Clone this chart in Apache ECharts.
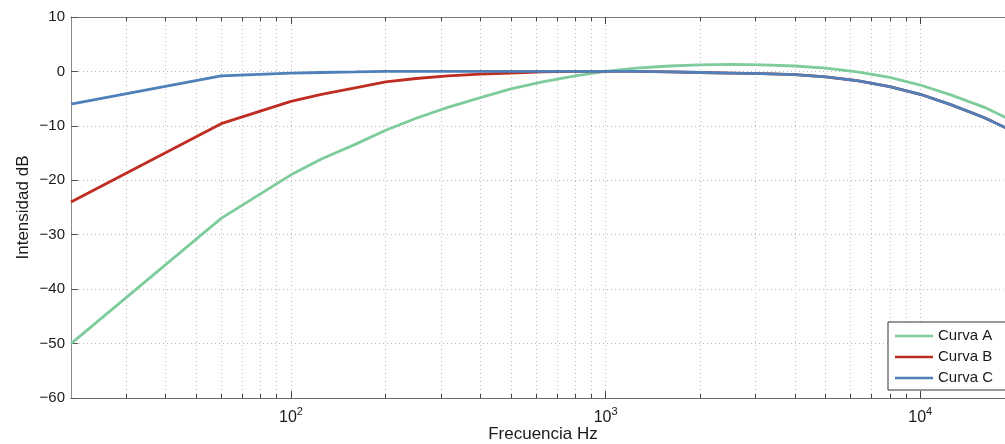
<!DOCTYPE html>
<html>
<head>
<meta charset="utf-8">
<script src="https://cdn.jsdelivr.net/npm/echarts@6/dist/echarts.min.js"></script>
<style>
  html, body { margin: 0; padding: 0; background: #fff; }
  #chart { width: 1005px; height: 444px; }
</style>
</head>
<body>
<div id="chart"></div>
<script>
// Frecuencias (Hz) de muestreo de las curvas
const freqs = [20, 60, 100, 125, 160, 200, 250, 315, 400, 500, 630, 800, 1000,
  1250, 1600, 2000, 2500, 3150, 4000, 5000, 6300, 8000, 10000, 12500, 16000, 20000];

// Curvas de ponderación (dB)
const curvaA = [-50.0, -27.0, -19.0, -16.1, -13.4, -10.8, -8.6, -6.6, -4.8, -3.2, -1.9, -0.8, 0,
  0.6, 1.0, 1.2, 1.3, 1.2, 1.0, 0.6, -0.1, -1.1, -2.5, -4.3, -6.6, -9.3];
const curvaB = [-24.0, -9.6, -5.5, -4.2, -3.0, -1.9, -1.3, -0.8, -0.5, -0.3, -0.1, 0, 0,
  0, -0.1, -0.2, -0.3, -0.4, -0.6, -1.0, -1.7, -2.8, -4.2, -6.1, -8.5, -11.2];
const curvaC = [-6.0, -0.8, -0.3, -0.2, -0.1, 0, 0, 0, 0, 0, 0, 0, 0,
  0, -0.1, -0.2, -0.3, -0.4, -0.6, -1.0, -1.7, -2.8, -4.2, -6.1, -8.5, -11.2];

// Marcas del eje x (escala logarítmica)
const majorTicks = [100, 1000, 10000];
const minorTicks = [30, 40, 50, 60, 70, 80, 90,
  200, 300, 400, 500, 600, 700, 800, 900,
  2000, 3000, 4000, 5000, 6000, 7000, 8000, 9000];

const yTicksMin = -60;
const yTicksMax = 10;
const yTickStep = 10;

const FONT = 'Liberation Sans, Arial, Helvetica, sans-serif';
const gridLine = { show: true, lineStyle: { color: '#bdbdbd', type: [1, 3], width: 1 } };

const pairs = (ys) => freqs.map((f, i) => [f, ys[i]]);

const baseX = {
  type: 'log',
  logBase: 10,
  min: 20,
  max: 20000,
  gridIndex: 0,
};

const chart = echarts.init(document.getElementById('chart'));

const option = {
  animation: false,
  backgroundColor: '#fff',
  // el eje derecho (20 kHz) queda fuera del lienzo, como en la figura original
  grid: { left: 71, top: 17, width: 944, height: 381, outerBoundsMode: 'none', containLabel: false },
  xAxis: [
    {
      ...baseX,
      position: 'bottom',
      name: 'Frecuencia Hz',
      nameLocation: 'middle',
      nameGap: 28,
      nameMoveOverlap: false,
      nameTextStyle: { fontFamily: FONT, fontSize: 17, color: '#1a1a1a' },
      axisLine: { show: true, onZero: false, lineStyle: { color: '#6a6a6a', width: 1 } },
      axisTick: { show: true, inside: true, length: 7, customValues: majorTicks, lineStyle: { color: '#444' } },
      axisLabel: {
        show: true,
        customValues: majorTicks,
        margin: 8,
        fontFamily: FONT,
        color: '#1a1a1a',
        formatter: (v) => '{n|10}{s|' + Math.round(Math.log10(v)) + '}',
        rich: {
          n: { fontFamily: FONT, fontSize: 16, color: '#1a1a1a', verticalAlign: 'bottom', lineHeight: 20 },
          s: { fontFamily: FONT, fontSize: 11, color: '#1a1a1a', verticalAlign: 'top', lineHeight: 20 }
        }
      },
      splitLine: gridLine,
    },
    {
      ...baseX,
      position: 'bottom',
      axisLine: { show: false, onZero: false },
      axisTick: { show: true, inside: true, length: 4, customValues: minorTicks, lineStyle: { color: '#444' } },
      axisLabel: { show: false },
      splitLine: gridLine,
    },
    {
      ...baseX,
      position: 'top',
      axisLine: { show: true, onZero: false, lineStyle: { color: '#7a7a7a', width: 1 } },
      axisTick: { show: true, inside: true, length: 7, customValues: majorTicks, lineStyle: { color: '#444' } },
      axisLabel: { show: false },
      splitLine: { show: false },
    },
    {
      ...baseX,
      position: 'top',
      axisLine: { show: false, onZero: false },
      axisTick: { show: true, inside: true, length: 4, customValues: minorTicks, lineStyle: { color: '#444' } },
      axisLabel: { show: false },
      splitLine: { show: false },
    }
  ],
  yAxis: {
    type: 'value',
    min: yTicksMin,
    max: yTicksMax,
    interval: yTickStep,
    name: 'Intensidad dB',
    nameLocation: 'middle',
    nameGap: 39,
    nameMoveOverlap: false,
    nameTextStyle: { fontFamily: FONT, fontSize: 17, color: '#1a1a1a' },
    axisLine: { show: true, onZero: false, lineStyle: { color: '#8a8a8a', width: 1 } },
    axisTick: { show: true, inside: true, length: 7, lineStyle: { color: '#555' } },
    axisLabel: {
      margin: 6,
      fontFamily: FONT,
      fontSize: 15,
      color: '#1a1a1a',
      formatter: (v) => String(v).replace('-', '\u2212')
    },
    splitLine: gridLine,
  },
  legend: {
    orient: 'vertical',
    left: 888,
    top: 322,
    padding: [6, 30, 4, 7],
    icon: 'rect',
    itemWidth: 38,
    itemHeight: 2.5,
    itemGap: 5,
    backgroundColor: '#fff',
    borderColor: '#333',
    borderWidth: 1,
    borderRadius: 0,
    textStyle: { fontFamily: FONT, fontSize: 15, lineHeight: 16, color: '#1a1a1a' },
    data: ['Curva A', 'Curva B', 'Curva C']
  },
  series: [
    {
      name: 'Curva A',
      type: 'line',
      xAxisIndex: 0,
      data: pairs(curvaA),
      symbol: 'none',
      smooth: false,
      lineStyle: { color: '#7ecb9c', width: 2.8 },
      itemStyle: { color: '#7ecb9c' }
    },
    {
      name: 'Curva B',
      type: 'line',
      xAxisIndex: 0,
      data: pairs(curvaB),
      symbol: 'none',
      smooth: false,
      lineStyle: { color: '#bf2d22', width: 2.8 },
      itemStyle: { color: '#bf2d22' }
    },
    {
      name: 'Curva C',
      type: 'line',
      xAxisIndex: 0,
      data: pairs(curvaC),
      symbol: 'none',
      smooth: false,
      lineStyle: { color: '#4f80b9', width: 2.8 },
      itemStyle: { color: '#4f80b9' }
    }
  ]
};

chart.setOption(option);
</script>
</body>
</html>
